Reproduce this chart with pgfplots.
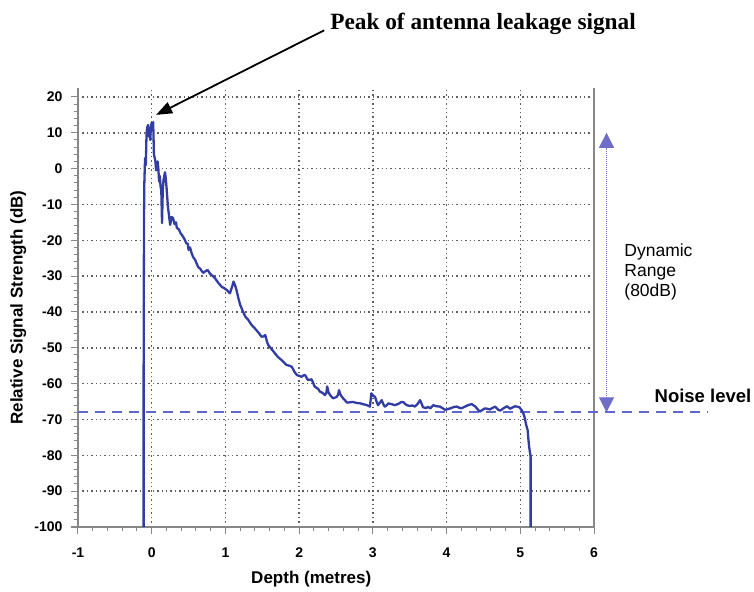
\documentclass[border=0pt]{standalone}
\usepackage{fontspec}
\setmainfont{Liberation Sans}
\newfontfamily\annotfont{Liberation Serif}
\usepackage{pgfplots}
\usepackage{pgfplotstable}
\pgfplotsset{compat=1.18}
\usetikzlibrary{arrows.meta}

\definecolor{trace}{RGB}{50,60,165}
\definecolor{noise}{RGB}{95,105,205}
\definecolor{rangec}{RGB}{110,110,200}
\definecolor{gridc}{RGB}{95,95,95}
\definecolor{axisc}{RGB}{135,135,135}

% Return loss trace: depth (m) vs relative signal strength (dB)
\pgfplotstableread{
x y
-0.11 -100
-0.11 -60
-0.105 -15
-0.10 -4
-0.09 3
-0.08 1
-0.07 10
-0.06 11.5
-0.05 12.2
-0.04 9
-0.03 11
-0.02 8
-0.01 12
0.00 12.8
0.01 11
0.02 13
0.03 4
0.04 3
0.05 2
0.06 -0.5
0.07 1.5
0.08 2
0.09 0
0.10 -3.6
0.11 -2
0.12 -5
0.13 -6
0.14 -15.2
0.15 -6
0.16 -3.2
0.18 -1
0.19 -2.6
0.20 -5
0.22 -10.6
0.24 -14
0.25 -15.7
0.27 -13.5
0.29 -13.8
0.31 -15.5
0.33 -15
0.34 -16.5
0.37 -17
0.39 -18
0.41 -18.5
0.44 -19.5
0.47 -20.8
0.49 -21
0.50 -22.7
0.52 -22
0.54 -23.5
0.56 -24.6
0.59 -25.5
0.61 -26.5
0.63 -27.4
0.66 -28
0.68 -28.6
0.70 -29.1
0.73 -28.6
0.76 -28.3
0.79 -29.3
0.83 -30
0.86 -30.6
0.90 -31.8
0.95 -33
0.98 -33.3
1.02 -33.9
1.04 -34.3
1.06 -34.8
1.09 -33
1.11 -31.5
1.13 -32.5
1.15 -33.9
1.18 -36.5
1.20 -38
1.23 -39.5
1.27 -41.3
1.29 -41.8
1.31 -42.2
1.35 -43.5
1.40 -44.6
1.45 -45.8
1.49 -46.9
1.52 -46.8
1.54 -46.4
1.56 -48
1.58 -49.2
1.62 -50.2
1.67 -51.5
1.71 -52.5
1.76 -53.4
1.80 -54.2
1.83 -54.8
1.87 -55
1.90 -55.3
1.94 -56.8
1.97 -57.6
2.01 -57.9
2.03 -58.1
2.06 -57.7
2.08 -57.6
2.12 -59
2.17 -58.8
2.21 -60.8
2.26 -61.5
2.28 -62.2
2.32 -62.6
2.35 -63.2
2.37 -62.5
2.38 -60.8
2.40 -62.5
2.42 -63.2
2.46 -64.1
2.51 -63.7
2.53 -63
2.54 -61.8
2.56 -63
2.58 -63.7
2.62 -64.6
2.65 -65.3
2.69 -65.2
2.73 -65.1
2.78 -65.4
2.83 -65.5
2.88 -65.8
2.92 -66
2.96 -66.4
2.98 -62.7
3.00 -63.3
3.03 -63.7
3.05 -65
3.07 -66
3.10 -65.2
3.12 -64.6
3.14 -65.6
3.16 -66.4
3.19 -66
3.21 -65.5
3.25 -65.7
3.30 -66
3.35 -65.6
3.38 -65.2
3.41 -65.1
3.44 -65.7
3.46 -66
3.50 -66.2
3.54 -66.1
3.57 -66.4
3.61 -65.6
3.64 -64.6
3.66 -65.5
3.68 -66.6
3.72 -66.8
3.75 -66.5
3.78 -66.9
3.80 -66.4
3.82 -66
3.86 -66.3
3.91 -66.4
3.95 -66.9
3.98 -67.3
4.02 -67.1
4.05 -66.9
4.10 -66.5
4.14 -66.4
4.17 -66.7
4.20 -66.9
4.24 -66.5
4.29 -66
4.34 -65.7
4.39 -66.4
4.42 -67.1
4.45 -67.8
4.49 -67.3
4.52 -66.9
4.55 -67
4.59 -67.2
4.62 -66.8
4.66 -66.4
4.70 -67.3
4.73 -67.5
4.77 -66.9
4.82 -66.3
4.86 -67
4.89 -66.7
4.93 -66.3
4.97 -66.5
4.99 -66.6
5.02 -67.5
5.04 -68.2
5.06 -69.5
5.08 -71.5
5.10 -73
5.11 -75.5
5.12 -77.6
5.13 -79
5.14 -80.4
5.14 -100
}\tracedata

\begin{document}
\begin{tikzpicture}
\begin{axis}[
  at={(0pt,0pt)}, anchor=south west,
  width=516pt, height=439pt, scale only axis,
  xmin=-1, xmax=6, ymin=-100, ymax=22.5,
  xtick={-1,0,...,6}, ytick={-100,-90,...,20},
  minor x tick num=4, minor y tick num=4,
  axis x line*=bottom, axis y line*=left,
  axis line style={axisc, line width=1.2pt, -},
  tick align=outside,
  major tick length=7pt, minor tick length=4pt,
  every tick/.style={axisc, line width=1pt},
  grid=major,
  major grid style={gridc, line width=1.5pt, dash pattern=on 1.4pt off 3pt},
  tick label style={font=\fontsize{14}{15}\selectfont\bfseries},
  xticklabel style={yshift=-10pt},
  yticklabel style={xshift=-5pt},
  /pgf/number format/assume math mode=true,
  xlabel={Depth (metres)},
  ylabel={Relative Signal Strength (dB)},
  label style={font=\fontsize{17}{18}\selectfont\bfseries},
  xlabel style={at={(axis description cs:0.452,-0.118)}, anchor=center},
  ylabel style={at={(axis description cs:-0.116,0.5)}, anchor=center},
  clip=false,
]
  % right frame line
  \draw[axisc, line width=1.2pt] (axis cs:6,-100) -- (axis cs:6,22.5);

  % noise floor
  \draw[noise, line width=2.2pt, dash pattern=on 10pt off 7pt]
    (axis cs:-1,-68) -- (axis cs:7.55,-68);

  % measured trace
  \addplot[trace, line width=2.3pt, line join=round, no marks] table[x=x,y=y] {\tracedata};

  % peak annotation
  \draw[black, line width=1.8pt, -{Triangle[length=16pt,width=12pt]}]
    (axis cs:2.34,38.6) -- (axis cs:0.06,15);
  \node[anchor=base west, inner sep=0pt,
        font=\annotfont\bfseries\fontsize{23.3}{25}\selectfont]
    at (axis cs:2.42,38.7) {Peak of antenna leakage signal};

  % dynamic range marker
  \draw[rangec, line width=1pt, densely dotted,
        {Triangle[length=15pt,width=15pt]}-{Triangle[length=15pt,width=15pt]}]
    (axis cs:6.17,-68) -- (axis cs:6.17,10);
  \node[anchor=west, align=left, inner sep=0pt, font=\fontsize{17.5}{20}\selectfont]
    at (axis cs:6.41,-28.8) {Dynamic\\Range\\(80dB)};
  \node[anchor=west, inner sep=0pt, font=\fontsize{18.5}{20}\selectfont\bfseries]
    at (axis cs:6.82,-63.3) {Noise level};
\end{axis}
\pgfresetboundingbox
\path (-78pt,-64pt) rectangle (676pt,527pt);
\end{tikzpicture}
\end{document}
